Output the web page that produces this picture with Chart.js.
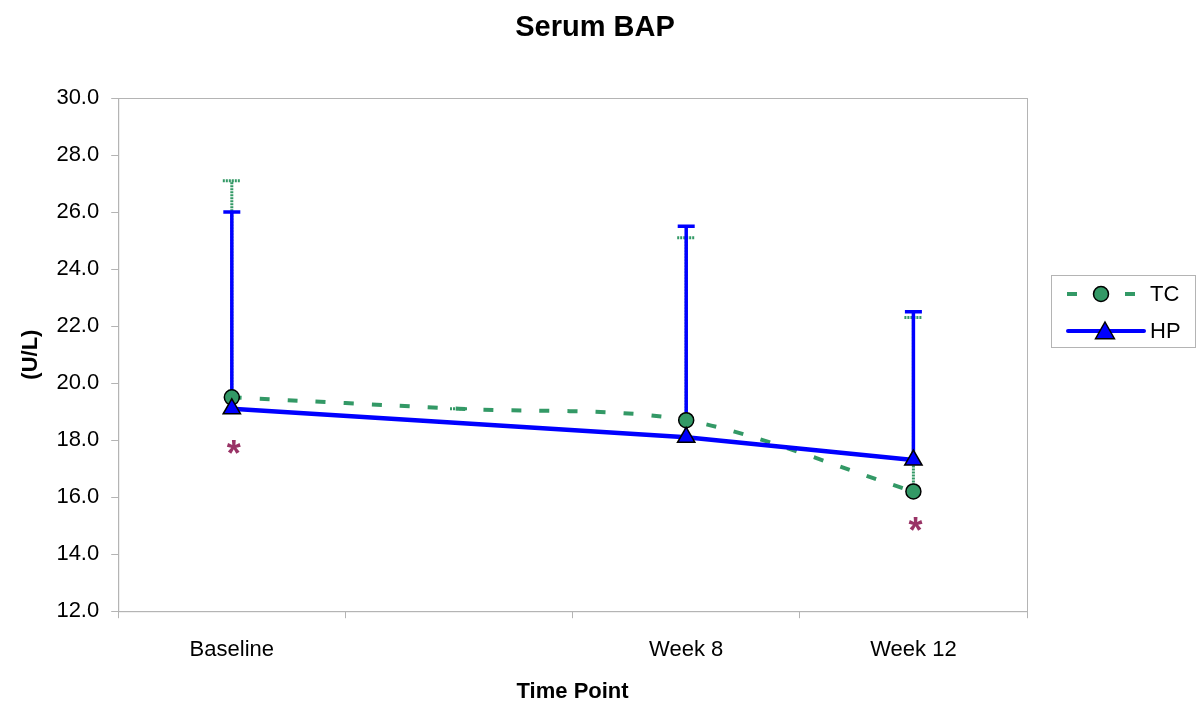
<!DOCTYPE html>
<html>
<head>
<meta charset="utf-8">
<script src="https://cdn.jsdelivr.net/npm/chart.js@4"></script>
<style>
  html, body { margin: 0; padding: 0; background: #fff; }
  #wrap { width: 1200px; height: 713px; }
</style>
</head>
<body>
<div id="wrap"><canvas id="bapChart" width="1200" height="713"></canvas></div>
<script>
// data
const timePoints = ["Baseline", "", "Week 8", "Week 12"];
const tcValues = [19.5, 19.1, 18.7, 16.2];
const hpValues = [19.1, null, 18.1, 17.3];
const tcUpper = [27.1, 19.1, 25.1, 22.3];
const hpUpper = [26.0, null, 25.5, 22.5];
const starIndex = [0, 3];
const starValue = [17.7, 15.0];

const GREEN = "#339966";
const BLUE = "#0000ff";
const FONT = "'Liberation Sans', Arial, sans-serif";

Chart.defaults.font.family = FONT;
Chart.defaults.color = "#000";

//============================
// plugins
//============================

// title centred on the whole picture, not only the plot
const pageTitle = {
  id: "pageTitle",
  afterDraw(chart) {
    const ctx = chart.ctx;
    ctx.save();
    ctx.fillStyle = "#000";
    ctx.font = "bold 29px " + FONT;
    ctx.textAlign = "center";
    ctx.textBaseline = "middle";
    ctx.fillText("Serum BAP", chart.width / 2 - 5, 28);
    ctx.restore();
  },
};

// grey box round the plot area
const frame = {
  id: "frame",
  afterDraw(chart) {
    const a = chart.chartArea;
    const ctx = chart.ctx;
    ctx.save();
    ctx.strokeStyle = "#b4b4b4";
    ctx.lineWidth = 1;
    ctx.strokeRect(a.left + 0.5, a.top + 0.5, a.right - a.left, a.bottom - a.top);
    ctx.restore();
  },
};

// upper error bars, TC first then HP on top
const errorBars = {
  id: "errorBars",
  beforeDatasetsDraw(chart) {
    const ctx = chart.ctx;
    const x = chart.scales.x;
    const y = chart.scales.y;
    const sets = [
      { vals: tcValues, up: tcUpper, color: GREEN, dash: [2, 1], width: 3, cap: 18 },
      { vals: hpValues, up: hpUpper, color: BLUE, dash: [], width: 3.5, cap: 17 },
    ];
    ctx.save();
    sets.forEach(function (s) {
      for (let i = 0; i < s.vals.length; i++) {
        if (s.vals[i] == null || s.up[i] == null) continue;
        const px = x.getPixelForValue(i);
        const py0 = y.getPixelForValue(s.vals[i]);
        const py1 = y.getPixelForValue(s.up[i]);
        ctx.strokeStyle = s.color;
        ctx.lineWidth = s.width;
        ctx.setLineDash(s.dash);
        ctx.beginPath();
        ctx.moveTo(px, py0);
        ctx.lineTo(px, py1);
        ctx.moveTo(px - s.cap / 2, py1);
        ctx.lineTo(px + s.cap / 2, py1);
        ctx.stroke();
      }
    });
    ctx.restore();
  },
};

// significance asterisks
const stars = {
  id: "stars",
  afterDatasetsDraw(chart) {
    const ctx = chart.ctx;
    ctx.save();
    ctx.fillStyle = "#993366";
    ctx.font = "bold 36px " + FONT;
    ctx.textAlign = "center";
    ctx.textBaseline = "middle";
    for (let i = 0; i < starIndex.length; i++) {
      const px = chart.scales.x.getPixelForValue(starIndex[i]);
      const py = chart.scales.y.getPixelForValue(starValue[i]);
      ctx.fillText("*", px + 2, py + 7);
    }
    ctx.restore();
  },
};

// legend box on the right, line sample with marker like the original
const sideLegend = {
  id: "sideLegend",
  afterDraw(chart) {
    const ctx = chart.ctx;
    const a = chart.chartArea;
    const bx = a.right + 24;
    const by = 275;
    const bw = 144;
    const bh = 72;
    ctx.save();
    ctx.strokeStyle = "#b4b4b4";
    ctx.lineWidth = 1;
    ctx.strokeRect(bx + 0.5, by + 0.5, bw, bh);

    const rows = [
      { label: "TC", color: GREEN, dash: [10, 48], style: "circle", r: 7.5, y: by + 19 },
      { label: "HP", color: BLUE, dash: [], style: "triangle", r: 9, y: by + 56 },
    ];
    rows.forEach(function (r) {
      ctx.strokeStyle = r.color;
      ctx.lineWidth = 4;
      ctx.setLineDash(r.dash);
      ctx.lineCap = r.dash.length ? "butt" : "round";
      ctx.beginPath();
      if (r.dash.length) {
        ctx.moveTo(bx + 16, r.y);
        ctx.lineTo(bx + 94, r.y);
      } else {
        ctx.moveTo(bx + 17, r.y);
        ctx.lineTo(bx + 93, r.y);
      }
      ctx.stroke();
      ctx.setLineDash([]);
      ctx.fillStyle = r.color;
      ctx.strokeStyle = "#000";
      ctx.lineWidth = 1.5;
      ctx.beginPath();
      if (r.style === "circle") {
        ctx.arc(bx + 50, r.y, r.r, 0, Math.PI * 2);
      } else {
        ctx.moveTo(bx + 54, r.y - r.r);
        ctx.lineTo(bx + 54 + r.r * 1.05, r.y + r.r * 0.85);
        ctx.lineTo(bx + 54 - r.r * 1.05, r.y + r.r * 0.85);
        ctx.closePath();
      }
      ctx.fill();
      ctx.stroke();
      ctx.fillStyle = "#000";
      ctx.font = "22px " + FONT;
      ctx.textAlign = "left";
      ctx.textBaseline = "middle";
      ctx.fillText(r.label, bx + 99, r.y + 1);
    });
    ctx.restore();
  },
};

//============================
// chart
//============================

const data = {
  labels: timePoints,
  datasets: [
    {
      label: "TC",
      data: tcValues,
      borderColor: GREEN,
      backgroundColor: GREEN,
      borderWidth: 4,
      borderDash: [10, 18],
      tension: 0.3,
      pointStyle: "circle",
      pointRadius: [7.5, 0, 7.5, 7.5],
      pointBorderColor: "#000",
      pointBorderWidth: 1.5,
      order: 2,
    },
    {
      label: "HP",
      data: hpValues,
      spanGaps: true,
      borderColor: BLUE,
      backgroundColor: BLUE,
      borderWidth: 4.5,
      tension: 0,
      pointStyle: "triangle",
      pointRadius: 10,
      pointBorderColor: "#000",
      pointBorderWidth: 1.5,
      order: 1,
    },
  ],
};

const config = {
  type: "line",
  data: data,
  options: {
    responsive: false,
    animation: false,
    devicePixelRatio: 1,
    layout: { padding: { left: 18, right: 173, top: 98, bottom: 0 } },
    plugins: {
      legend: { display: false },
      tooltip: { enabled: false },
      title: { display: false },
    },
    scales: {
      x: {
        offset: true,
        grid: {
          offset: true,
          drawOnChartArea: false,
          drawTicks: true,
          tickLength: 7,
          color: "#b4b4b4",
        },
        border: { color: "#b4b4b4" },
        ticks: { font: { size: 22 }, padding: 19, maxRotation: 0 },
        title: {
          display: true,
          text: "Time Point",
          font: { size: 22, weight: "bold" },
          padding: { top: -4, bottom: 8 },
        },
      },
      y: {
        min: 12,
        max: 30,
        grid: {
          drawOnChartArea: false,
          drawTicks: true,
          tickLength: 7,
          color: "#b4b4b4",
        },
        border: { color: "#b4b4b4" },
        ticks: {
          stepSize: 2,
          font: { size: 22 },
          padding: 12,
          callback: function (v) { return v.toFixed(1); },
        },
        title: {
          display: true,
          text: "(U/L)",
          font: { size: 22, weight: "bold" },
          padding: { top: 0, bottom: 0 },
        },
      },
    },
  },
  plugins: [pageTitle, frame, errorBars, stars, sideLegend],
};

const bapChart = new Chart(document.getElementById("bapChart"), config);
</script>
</body>
</html>
